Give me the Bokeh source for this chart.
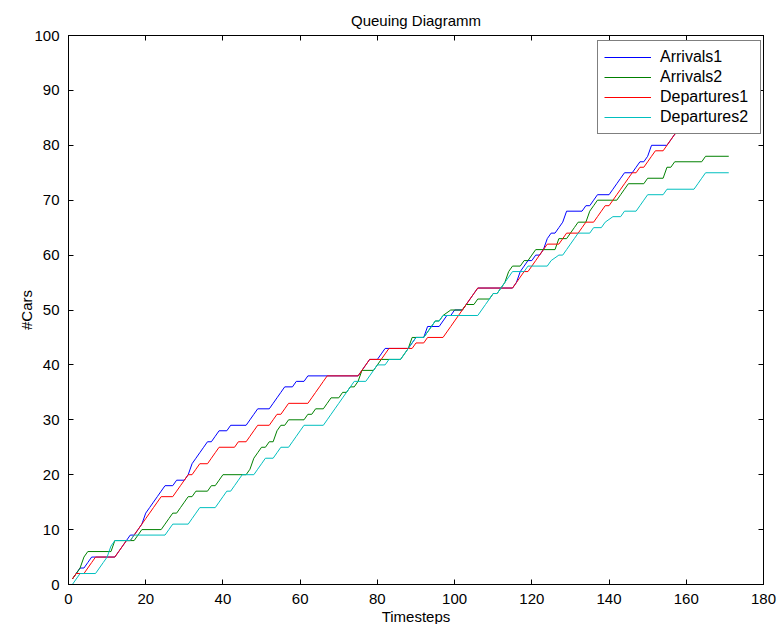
from bokeh.plotting import figure
from bokeh.models import LinearAxis, SingleIntervalTicker, Range1d, CustomLabelingPolicy
from bokeh.embed import file_html
from bokeh.resources import INLINE

# ---- data (vertices: timestep, cumulative cars) ----
arrivals1_t = [1,2,3,4,5,6,12,13,14,15,16,17,18,19,20,21,22,23,24,25,27,28,30,31,32,33,34,35,36,37,38,39,41,42,46,47,48,49,52,53,54,55,56,58,59,61,62,75,76,77,78,80,81,82,88,89,90,92,93,96,97,98,99,100,102,103,104,105,106,115,116,117,118,119,120,121,122,123,124,125,126,127,128,129,133,134,135,136,137,140,141,142,143,144,146,147,148,149,150,151,155,156,157,158,160,162,164,166,171]
arrivals1_y = [1,2,3,3,4,5,5,6,7,8,9,9,10,11,13,14,15,16,17,18,18,19,19,20,22,23,24,25,26,26,27,28,28,29,29,30,31,32,32,33,34,35,36,36,37,37,38,38,39,40,41,41,42,43,43,44,45,45,47,47,48,49,49,50,50,51,52,53,54,54,55,57,58,59,59,60,60,61,63,64,64,65,66,68,68,69,69,70,71,71,72,73,74,75,75,76,77,77,78,80,80,81,82,83,84,85,86,87,87]

arrivals2_t = [1,2,3,4,5,11,12,17,18,19,24,25,26,27,28,29,30,31,32,33,36,37,38,39,40,46,47,48,49,50,51,52,53,54,55,56,57,61,62,63,64,66,67,68,70,71,72,73,74,75,76,79,80,81,86,87,88,89,92,93,94,95,96,97,99,102,103,105,106,109,110,111,112,113,114,115,117,118,119,120,121,126,127,129,130,131,132,134,135,136,137,142,143,144,145,149,150,154,155,156,157,164,165,171]
arrivals2_y = [1,2,3,5,6,6,8,8,9,10,10,11,12,13,13,14,15,16,16,17,17,18,18,19,20,20,21,23,24,25,25,26,26,28,29,29,30,30,31,31,32,32,33,34,34,35,35,36,36,37,39,39,40,41,41,42,43,45,45,46,47,48,48,49,50,50,51,51,52,52,53,53,54,55,57,58,58,59,59,60,61,61,63,63,64,65,66,66,68,69,70,70,71,72,73,73,74,74,76,76,77,77,78,78]

departures1_t = [1,2,4,5,6,7,12,13,14,15,16,17,18,19,20,21,22,23,24,27,28,29,30,31,32,33,34,36,37,38,39,43,44,46,47,48,49,52,53,54,55,56,57,62,63,64,65,66,67,75,76,77,78,81,82,83,89,90,92,93,97,98,99,100,101,102,103,104,105,106,115,116,117,118,119,120,121,122,123,124,127,128,129,132,133,134,136,137,138,139,140,141,142,143,144,145,146,147,148,149,150,151,152,154,155,156,157,159,161,163,165,171]
departures1_y = [1,2,2,3,4,5,5,6,7,8,8,9,10,11,12,13,14,15,16,16,17,18,19,20,20,21,22,22,23,24,25,25,26,26,27,28,29,29,30,31,31,32,33,33,34,35,36,37,38,38,39,40,41,41,42,43,43,44,44,45,45,46,47,48,49,50,51,52,53,54,54,55,56,57,57,58,59,60,61,62,62,63,64,64,65,66,66,67,68,69,69,70,71,72,73,74,75,75,76,76,77,78,79,79,80,81,82,83,84,84,85,85]

departures2_t = [1,2,3,7,8,9,10,11,12,16,17,25,26,27,31,32,33,34,38,39,40,41,42,43,44,45,48,49,50,51,53,54,55,57,58,59,60,61,66,67,68,69,70,71,72,73,74,77,78,79,80,82,83,86,87,88,89,90,92,93,94,95,96,97,98,106,107,108,109,110,111,112,113,114,115,118,119,124,125,127,128,129,130,131,132,135,136,138,139,141,143,144,147,148,149,150,154,155,162,163,164,165,171]
departures2_y = [0,1,2,2,3,4,5,7,8,8,9,9,10,11,11,12,13,14,14,15,16,17,17,18,19,20,20,21,22,23,23,24,25,25,26,27,28,29,29,30,31,32,33,34,35,36,37,37,38,39,40,40,41,41,42,43,44,45,45,46,47,48,48,49,49,49,50,51,52,53,53,54,55,56,57,57,58,58,59,60,60,61,62,63,64,64,65,65,66,67,67,68,68,69,70,71,71,72,72,73,74,75,75]

x_ticks_interval = 20
y_ticks_interval = 10

series = [
    ("Arrivals1", arrivals1_t, arrivals1_y, "#0000ff"),
    ("Arrivals2", arrivals2_t, arrivals2_y, "#008000"),
    ("Departures1", departures1_t, departures1_y, "#ff0000"),
    ("Departures2", departures2_t, departures2_y, "#00bfbf"),
]

FONT = "Liberation Sans"

p = figure(
    frame_width=695, frame_height=549,
    min_border_left=68, min_border_right=15, min_border_top=35, min_border_bottom=40,
    x_range=Range1d(0, 180), y_range=Range1d(0, 100),
    output_backend="svg", toolbar_location=None,
    title="Queuing Diagramm",
)
p.background_fill_color = "white"
p.border_fill_color = "white"
p.outline_line_color = "black"
p.grid.visible = False

p.title.align = "center"
p.title.text_font = FONT
p.title.text_font_size = "15px"
p.title.text_font_style = "normal"
p.title.text_color = "black"
p.title.standoff = 6

for name, t, y, c in series:
    p.line(t, y, line_color=c, line_width=1, legend_label=name)

no_labels = CustomLabelingPolicy(code="return new Set()")

def style_axis(ax, show_labels=True):
    ax.major_tick_in = 5
    ax.major_tick_out = 0
    ax.minor_tick_line_color = None
    ax.axis_line_color = "black"
    ax.major_tick_line_color = "black"
    ax.major_label_text_font = FONT
    ax.major_label_text_color = "black"
    ax.axis_label_text_font = FONT
    ax.axis_label_text_font_style = "normal"
    ax.axis_label_text_color = "black"
    ax.major_label_text_font_size = "15px"
    ax.axis_label_text_font_size = "15px"
    if not show_labels:
        ax.major_label_policy = no_labels
        ax.major_label_text_font_size = "0px"
        ax.major_label_standoff = 0

p.xaxis.ticker = SingleIntervalTicker(interval=x_ticks_interval)
p.yaxis.ticker = SingleIntervalTicker(interval=y_ticks_interval)
p.xaxis.axis_label = "Timesteps"
p.yaxis.axis_label = "#Cars"
style_axis(p.xaxis[0])
style_axis(p.yaxis[0])
p.xaxis.major_label_standoff = 5
p.xaxis.axis_label_standoff = 1
p.yaxis.major_label_standoff = 5
p.yaxis.axis_label_standoff = -4

top = LinearAxis(ticker=SingleIntervalTicker(interval=x_ticks_interval))
style_axis(top, show_labels=False)
p.add_layout(top, "above")
right = LinearAxis(ticker=SingleIntervalTicker(interval=y_ticks_interval))
style_axis(right, show_labels=False)
p.add_layout(right, "right")

lg = p.legend[0]
lg.location = (529, 450)
lg.border_line_color = "black"
lg.border_line_width = 1
lg.background_fill_color = "white"
lg.background_fill_alpha = 1
lg.label_text_font = FONT
lg.label_text_font_size = "16px"
lg.label_text_color = "black"
lg.glyph_width = 47
lg.glyph_height = 20
lg.label_height = 20
lg.label_width = 94
lg.label_standoff = 9
lg.padding = 6
lg.spacing = 0
lg.margin = 0

open("out.html", "w").write(file_html(p, INLINE))
